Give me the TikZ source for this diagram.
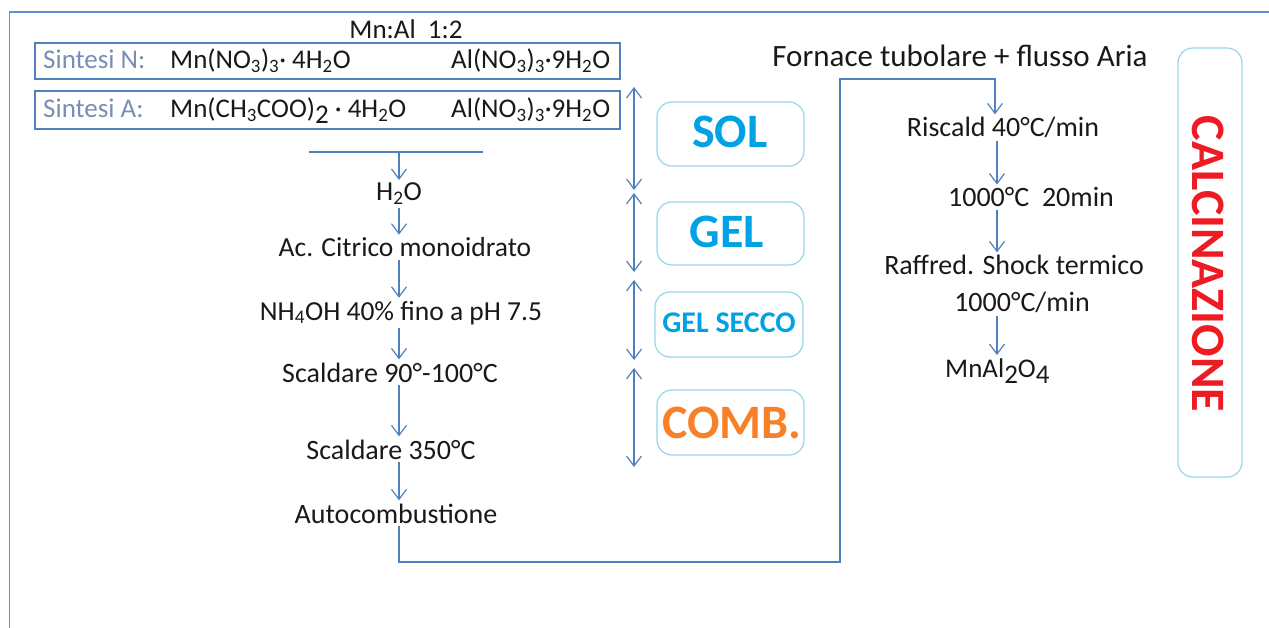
\documentclass[tikz,border=0pt]{standalone}
\usepackage{fontspec}
\setmainfont{Carlito}
\usetikzlibrary{arrows.meta}
\definecolor{arrblue}{RGB}{79,129,189}
\definecolor{frameblue}{RGB}{90,145,215}
\definecolor{stageb}{RGB}{150,212,232}
\definecolor{solblue}{RGB}{0,162,228}
\definecolor{combor}{RGB}{247,128,40}
\definecolor{calcred}{RGB}{237,28,36}
\definecolor{sintc}{RGB}{120,142,180}
\definecolor{txt}{RGB}{25,25,25}
\newcommand{\sbs}[1]{\textsubscript{#1}}
\newcommand{\fs}[1]{\fontsize{#1}{#1}\selectfont}
\tikzset{
  ln/.style={draw=arrblue, line width=1.5pt},
  arr/.style={ln, -{Straight Barb[length=10pt,width=15pt,line width=1.2pt]}},
  darr/.style={ln, {Straight Barb[length=10pt,width=15pt,line width=1.2pt]}-{Straight Barb[length=10pt,width=15pt,line width=1.2pt]}},
  tx/.style={inner sep=0pt, anchor=base, text=txt, font=\fs{27}},
  ltx/.style={tx, font=\fs{27.5}},
  rtx/.style={tx, font=\fs{28}},
  sbox/.style={draw=arrblue, line width=1.5pt},
  stage/.style={draw=stageb, line width=1.2pt, rounded corners=15pt},
  stx/.style={inner sep=0pt, anchor=base, font=\bfseries\fs{48}},
  below gap/.style={yshift=-3pt},
  above gap/.style={yshift=3pt},
}
\begin{document}
\begin{tikzpicture}[x=1pt,y=-1pt]
\useasboundingbox (0,0) rectangle (1269,628);
% frame
\draw[draw=frameblue, line width=1.6pt] (9.5,628) -- (9.5,12) -- (1269,12);

% header
\node[tx] (ratio) at (406,39) {Mn:Al\ \ 1:2};
\draw[sbox] (35,43) rectangle (620,79);
\draw[sbox] (35,91) rectangle (620,129);
\node[tx, anchor=base west, text=sintc] (sn) at (43,69) {Sintesi N:};
\node[tx, anchor=base west] (mnn) at (170,69) {Mn(NO\sbs{3})\sbs{3}· 4H\sbs{2}O};
\node[tx, anchor=base west] (aln) at (451,69) {Al(NO\sbs{3})\sbs{3}·9H\sbs{2}O};
\node[tx, anchor=base west, text=sintc] (sa) at (43,118) {Sintesi A:};
\node[tx, anchor=base west] (mna) at (170,118) {Mn(CH\sbs{3}COO)\raisebox{-0.4ex}{2} · 4H\sbs{2}O};
\node[tx, anchor=base west] (ala) at (451,118) {Al(NO\sbs{3})\sbs{3}·9H\sbs{2}O};

% left process column
\coordinate (bl) at (309,152);
\coordinate (br) at (483,152);
\coordinate (sp) at (399,152);
\draw[ln] (bl) -- (br);
\node[ltx] (h2o) at (399,201) {H\sbs{2}O};
\node[ltx] (cit) at (405,257) {Ac. Citrico monoidrato};
\node[ltx] (nh4) at (401,320) {NH\sbs{4}OH 40\% fino a pH 7.5};
\node[rtx] (s90) at (390,382) {Scaldare 90°-100°C};
\node[rtx] (s350) at (391,459) {Scaldare 350°C};
\node[rtx] (auto) at (396,523) {Autocombustione};
\draw[arr] (sp) -- ([above gap]h2o.north -| sp);
\draw[arr] ([below gap]h2o.south -| sp) -- ([above gap]cit.north -| sp);
\draw[arr] ([below gap]cit.south -| sp) -- ([above gap]nh4.north -| sp);
\draw[arr] ([below gap]nh4.south -| sp) -- ([above gap]s90.north -| sp);
\draw[arr] ([below gap]s90.south -| sp) -- ([above gap]s350.north -| sp);
\draw[arr] ([below gap]s350.south -| sp) -- ([above gap]auto.north -| sp);

% connection to furnace
\coordinate (c1) at (840,562);
\coordinate (c2) at (840,79);
\coordinate (c3) at (995,79);
\node[tx, font=\fs{31}] (forn) at (960,67) {Fornace tubolare + flusso Aria};
\node[rtx] (risc) at (1003,137) {Riscald 40°C/min};
\draw[arr] ([below gap]auto.south -| sp) |- (c1) -- (c2) -- (c3) -- ([above gap]risc.north -| c3);

% right column
\coordinate (sp2) at (997,0);
\node[rtx] (t1000) at (1031,207) {1000°C\ \ 20min};
\node[rtx] (raff) at (1014,275) {Raffred. Shock termico};
\node[rtx] (t1000b) at (1022,312) {1000°C/min};
\node[tx, anchor=base west] (mnal) at (945,377) {MnAl\raisebox{-0.5ex}{2}O\raisebox{-0.5ex}{4}};
\draw[arr] ([below gap]risc.south -| sp2) -- ([above gap]t1000.north -| sp2);
\draw[arr] ([below gap]t1000.south -| sp2) -- ([above gap]raff.north -| sp2);
\draw[arr] ([below gap]t1000b.south -| sp2) -- ([above gap]mnal.north -| sp2);

% stage arrows
\coordinate (d1a) at (634,87);  \coordinate (d1b) at (634,190);
\coordinate (d2a) at (634,193); \coordinate (d2b) at (634,272);
\coordinate (d3a) at (634,280); \coordinate (d3b) at (634,360);
\coordinate (d4a) at (634,368); \coordinate (d4b) at (634,467);
\draw[darr] (d1a) -- (d1b);
\draw[darr] (d2a) -- (d2b);
\draw[darr] (d3a) -- (d3b);
\draw[darr] (d4a) -- (d4b);

% stage boxes
\draw[stage] (657,102) rectangle (804,166);
\draw[stage] (657,202) rectangle (804,265);
\draw[stage] (655,292) rectangle (803,357);
\draw[stage] (657,390) rectangle (804,455);
\node[stx, text=solblue] (sol) at (730,148) {SOL};
\node[stx, text=solblue] (gel) at (727,248) {GEL};
\node[stx, text=solblue, font=\bfseries\fs{30}] (gels) at (729,333) {GEL SECCO};
\node[stx, text=combor] (comb) at (732,438) {COMB.};

% calcinazione
\draw[stage] (1178,48) rectangle (1242,477);
\node[inner sep=0pt, text=calcred, font=\bfseries\fs{48}, rotate=-90] (calc) at (1208,264) {CALCINAZIONE};
\end{tikzpicture}
\end{document}
